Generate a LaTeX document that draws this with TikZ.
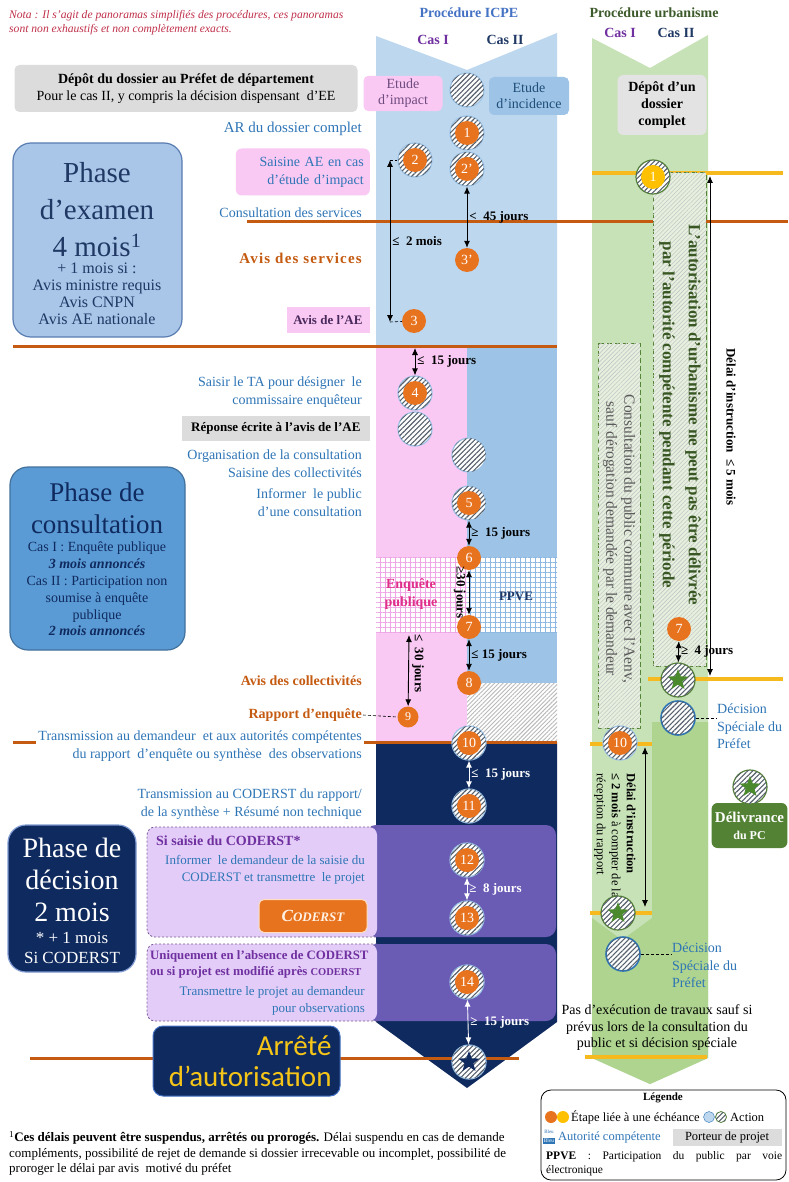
\documentclass[tikz,border=0pt]{standalone}
\usepackage{fontspec}
\setmainfont{Liberation Serif}
\newfontfamily\calib{Carlito}
\usetikzlibrary{arrows.meta,patterns.meta,shapes.geometric}

\definecolor{colbleu}{HTML}{BDD7EE}
\definecolor{colbleuB}{HTML}{9DC3E6}
\definecolor{colrose}{HTML}{F9C9F3}
\definecolor{grilrose}{HTML}{EFA6E6}
\definecolor{grilbleu}{HTML}{8DB8E2}
\definecolor{colnavy}{HTML}{0F2A5E}
\definecolor{colviolet}{HTML}{6A5BB5}
\definecolor{collilas}{HTML}{E3CDF8}
\definecolor{bordlilas}{HTML}{7A5A96}
\definecolor{colvert}{HTML}{C8E2B8}
\definecolor{colvertB}{HTML}{AED48F}
\definecolor{colvertF}{HTML}{548235}
\definecolor{etoilevert}{HTML}{4A8A2C}
\definecolor{fondurba}{HTML}{E6F0DE}
\definecolor{txtvert}{HTML}{385723}
\definecolor{colorange}{HTML}{E8731F}
\definecolor{lineorange}{HTML}{C55A11}
\definecolor{linejaune}{HTML}{F6BA1E}
\definecolor{jaune}{HTML}{FFC000}
\definecolor{txtbleu}{HTML}{2E75B6}
\definecolor{txtnavy}{HTML}{1F3864}
\definecolor{txtviolet}{HTML}{7030A0}
\definecolor{txtavisae}{HTML}{4A2A5C}
\definecolor{txtimpact}{HTML}{6E4A7E}
\definecolor{txtincid}{HTML}{1F4E79}
\definecolor{colgris}{HTML}{DCDCDC}
\definecolor{notarouge}{HTML}{C0304A}
\definecolor{txtrose}{HTML}{E0308A}
\definecolor{hachure}{HTML}{56606C}
\definecolor{fondexam}{HTML}{A9C6E8}
\definecolor{bordexam}{HTML}{5A7DB2}
\definecolor{fondconsult}{HTML}{5B9BD5}
\definecolor{bordconsult}{HTML}{41719C}
\definecolor{borddecis}{HTML}{7F9AD0}
\definecolor{txtarrete}{HTML}{F5C518}
\definecolor{txtgris}{HTML}{595959}
\definecolor{titreurba}{HTML}{3D5A2A}
\definecolor{titreicpe}{HTML}{4472C4}

\tikzset{
  bleutxt/.style={anchor=east, align=right, text=txtbleu, inner sep=1pt, font=\fontsize{14}{18}\selectfont},
  orgtxt/.style={anchor=east, text=lineorange, inner sep=1pt, font=\bfseries\fontsize{14}{18}\selectfont},
  hach/.style={circle, minimum size=34pt, inner sep=0pt, draw=colbleuB, line width=1.2pt, fill=white,
    postaction={pattern={Lines[angle=45,distance=3.5pt,line width=1.1pt]}, pattern color=hachure}},
  num/.style={circle, minimum size=24pt, inner sep=0pt, fill=colorange, text=white, font=\fontsize{14}{14}\selectfont},
  etoile/.style={star, star points=5, star point ratio=2.4, inner sep=0pt, minimum size=22pt},
  duree/.style={{Latex[length=7pt,width=6pt]}-{Latex[length=7pt,width=6pt]}, line width=0.9pt},
  dureelbl/.style={anchor=west, inner sep=2pt, font=\bfseries\fontsize{13}{13}\selectfont},
  renvoi/.style={dash pattern=on 3pt off 2pt, line width=0.6pt},
  phase/.style={rounded corners=18pt, line width=1.2pt},
  ligne orange/.style={lineorange, line width=3pt},
  ligne jaune/.style={linejaune, line width=3.5pt},
  cadre urba/.style={dash pattern=on 5pt off 3pt, draw=colvertF, line width=1pt, fill=fondurba,
    postaction={pattern={Lines[angle=45,distance=3pt,line width=0.6pt]}, pattern color=gray!45}},
  cadre lilas/.style={dash pattern=on 2pt off 2pt, draw=bordlilas, line width=0.8pt, rounded corners=8pt},
  grille/.style={pattern={Hatch[angle=0,distance=5pt,line width=0.7pt]}}
}

\begin{document}
\begin{tikzpicture}[x=1pt,y=-1pt]
\useasboundingbox (0,0) rectangle (788,1182);
\fill[white] (0,0) rectangle (788,1182);

\fill[colbleu] (376,36) -- (467,70) -- (557,33) -- (557,346) -- (376,346) -- cycle;
\fill[colrose] (376,346) rectangle (467,742);
\fill[colbleuB] (467,346) rectangle (557,683);
\fill[white] (376,557) rectangle (557,632);
\fill[grille, pattern color=grilrose] (376,557) rectangle (467,632);
\fill[grille, pattern color=grilbleu] (467,557) rectangle (557,632);
\fill[white] (467,683) rectangle (557,742);
\fill[pattern={Lines[angle=45,distance=3pt,line width=0.9pt]}, pattern color=gray!55] (467,683) rectangle (557,742);
\fill[colnavy] (376,742) -- (557,742) -- (557,1022) -- (467,1088) -- (376,1022) -- cycle;
\fill[colviolet, rounded corners=10pt] (366,825) rectangle (556,937);
\fill[colviolet, rounded corners=10pt] (366,944) rectangle (556,1021);

\fill[colvert] (592,38) -- (650,68) -- (708,35) -- (708,1058) -- (650,1084) -- (592,1058) -- cycle;
\fill[colvertB] (652,722) -- (708,722) -- (708,1058) -- (650,1084) -- (592,1058) -- (592,918) -- (622,940) -- (652,918) -- cycle;

\draw[ligne orange] (247,222) -- (788,222);
\draw[ligne orange] (13,346) -- (557,346);
\draw[ligne orange] (13,742) -- (557,742);
\draw[ligne orange] (30,1058) -- (519,1058);
\draw[ligne jaune] (592,173) -- (783,173);
\draw[ligne jaune] (648,679) -- (783,679);
\draw[ligne jaune] (590,744) -- (652,744);
\draw[ligne jaune] (590,913) -- (652,913);
\draw[ligne jaune] (585,1057) -- (707,1057);

\draw[cadre urba] (653,173) rectangle (706,666);
\draw[cadre urba] (598,343) rectangle (640,728);

\fill[collilas, rounded corners=8pt] (147,827) rectangle (377,937);
\draw[cadre lilas] (377,827) -- (147,827) -- (147,937) -- (377,937);
\fill[collilas, rounded corners=8pt] (147,944) rectangle (377,1021);
\draw[cadre lilas] (377,944) -- (147,944) -- (147,1021) -- (377,1021);

\node[anchor=north west, align=left, text=notarouge, inner sep=0pt, font=\itshape\fontsize{11.6}{14}\selectfont] (nota) at (9,10) {Nota : Il s’agit de panoramas simplifiés des procédures, ces panoramas\\sont non exhaustifs et non complètement exacts.};
\node[text=titreicpe, font=\bfseries\fontsize{14}{14}\selectfont] (icpe) at (469,13) {Procédure ICPE};
\node[text=txtviolet, font=\bfseries\fontsize{14}{14}\selectfont] (icpecas1) at (433,40) {Cas I};
\node[text=txtnavy, font=\bfseries\fontsize{14}{14}\selectfont] (icpecas2) at (505,40) {Cas II};
\node[text=titreurba, font=\bfseries\fontsize{14}{14}\selectfont] (urba) at (654,13) {Procédure urbanisme};
\node[text=txtviolet, font=\bfseries\fontsize{14}{14}\selectfont] (urbacas1) at (620,33) {Cas I};
\node[text=txtnavy, font=\bfseries\fontsize{14}{14}\selectfont] (urbacas2) at (676,33) {Cas II};

\node[fill=colgris, rounded corners=5pt, minimum width=343pt, minimum height=47pt, align=center, font=\fontsize{14}{17}\selectfont] (depot) at (186,88.5) {\textbf{Dépôt du dossier au Préfet de département}\\Pour le cas II, y compris la décision dispensant \ d’EE};
\node[fill=colrose, rounded corners=5pt, minimum width=79pt, minimum height=33pt, align=center, text=txtimpact, font=\fontsize{14}{16}\selectfont] (etimpact) at (403,93.5) {Etude\\d’impact};
\node[fill=colbleuB, rounded corners=5pt, minimum width=80pt, minimum height=38pt, align=center, text=txtincid, font=\fontsize{14}{16}\selectfont] (etincid) at (529,96) {Etude\\d’incidence};
\node[fill=colgris!80!white, rounded corners=6pt, minimum width=89pt, minimum height=60pt, align=center, font=\bfseries\fontsize{14}{17}\selectfont] (depurba) at (662,105) {Dépôt d’un\\dossier\\complet};

\node[bleutxt, font=\fontsize{15}{18}\selectfont] (ar) at (363,129) {AR du dossier complet};
\node[bleutxt, fill=colrose, rounded corners=6pt, text width=122pt, inner xsep=6pt, minimum height=47pt] (saisine) at (370,172) {Saisine AE en cas\\d’étude d’impact};
\node[bleutxt] (consult) at (363,213) {Consultation des services};
\node[orgtxt, font=\bfseries\fontsize{15}{18}\addfontfeatures{LetterSpace=8}\selectfont] (avisserv) at (363,258) {Avis des services};
\node[fill=colrose, minimum width=83pt, minimum height=26pt, text=txtavisae, font=\bfseries\fontsize{13}{13}\selectfont] (avisae) at (328,320) {Avis de l’AE};

\node[phase, fill=fondexam, draw=bordexam, minimum width=169pt, minimum height=194pt] (examen) at (97.5,240) {};
\node[text=txtnavy, align=center, font=\fontsize{29}{37}\selectfont] (examtitre) at (97,210) {Phase\\d’examen\\4 mois\textsuperscript{1}};
\node[text=txtnavy, align=center, font=\fontsize{16}{17}\selectfont] (examsous) at (97,294) {+ 1 mois si :\\Avis ministre requis\\Avis CNPN\\Avis AE nationale};

\node[bleutxt] (saisirta) at (363,392) {Saisir le TA pour désigner \ le\\commissaire enquêteur};
\node[fill=colgris, anchor=east, minimum width=188pt, minimum height=25pt, font=\bfseries\fontsize{13}{13}\selectfont] (reponse) at (370,428) {Réponse écrite à l’avis de l’AE};
\node[bleutxt] (organis) at (363,464) {Organisation de la consultation\\Saisine des collectivités};
\node[bleutxt] (informer) at (363,503) {Informer \ le public\\d’une consultation};

\node[phase, fill=fondconsult, draw=bordconsult, minimum width=175pt, minimum height=183pt] (consultation) at (97.5,558.5) {};
\node[text=colnavy, align=center, font=\fontsize{27}{32}\selectfont] (consulttitre) at (97,508) {Phase de\\consultation};
\node[text=colnavy, align=center, font=\fontsize{14}{16.8}\selectfont] (consultsous) at (97,589) {Cas I : Enquête publique\\\textbf{\textit{3 mois annoncés}}\\Cas II : Participation non\\soumise à enquête\\publique\\\textbf{\textit{2 mois annoncés}}};

\node[text=txtrose, align=center, font=\bfseries\fontsize{14}{18}\selectfont] (enqpub) at (411,594) {Enquête\\publique};
\node[text=txtnavy, font=\bfseries\fontsize{13}{13}\selectfont] (ppve) at (516,596) {PPVE};

\node[orgtxt] (aviscoll) at (363,681) {Avis des collectivités};
\node[orgtxt] (rapport) at (363,715) {Rapport d’enquête};
\node[bleutxt, fill=white, inner sep=2pt] (transdem) at (364,746) {Transmission au demandeur \ et aux autorités compétentes\\du rapport \ d’enquête ou synthèse \ des observations};
\node[bleutxt] (transcod) at (363,804) {Transmission au CODERST du rapport/\\de la synthèse + Résumé non technique};

\node[anchor=west, text=txtviolet, inner sep=1pt, font=\bfseries\fontsize{14}{14}\selectfont] (sisaisie) at (155,841) {Si saisie du CODERST*};
\node[bleutxt, font=\fontsize{13}{17}\selectfont] (informdem) at (366,870) {Informer \ le demandeur de la saisie du\\CODERST et transmettre \ le projet};
\node[fill=colorange, draw=orange!25, line width=1pt, rounded corners=5pt, minimum width=108pt, minimum height=33pt, text=orange!10, font=\bfseries\itshape\fontsize{17}{17}\selectfont] (coderst) at (313,916) {C{\fontsize{13}{13}\selectfont ODERST}};
\node[anchor=north west, align=left, text=txtviolet, inner sep=1pt, font=\bfseries\fontsize{12.8}{16.5}\selectfont] (uniquement) at (149,949) {Uniquement en l’absence de CODERST\\ou si projet est modifié après {\fontsize{10.5}{11}\selectfont CODERST}};
\node[bleutxt, font=\fontsize{13}{17}\selectfont] (transproj) at (366,1001) {Transmettre le projet au demandeur\\pour observations};

\node[phase, fill=colnavy, draw=borddecis, minimum width=128pt, minimum height=147pt] (decision) at (72,898.5) {};
\node[text=white, align=center, font=\fontsize{28}{32}\selectfont] (decistitre) at (72,880) {Phase de\\décision\\2 mois};
\node[text=white, align=center, font=\fontsize{17}{20}\selectfont] (decissous) at (72,948) {* + 1 mois\\Si CODERST};

\node[fill=colnavy, draw=titreicpe, line width=1pt, rounded corners=10pt, minimum width=187pt, minimum height=70pt, text width=170pt, align=right, text=txtarrete, font=\calib\fontsize{29}{31}\selectfont] (arrete) at (246.5,1061) {Arrêté\\d’autorisation};

\node[anchor=north west, align=left, inner sep=0pt, font=\fontsize{13}{15.5}\selectfont] (note) at (9,1131) {\textsuperscript{1}\textbf{Ces délais peuvent être suspendus, arrêtés ou prorogés.} Délai suspendu en cas de demande\\compléments, possibilité de rejet de demande si dossier irrecevable ou incomplet, possibilité de\\proroger le délai par avis \ motivé du préfet};

\node[rotate=-90, align=center, text=txtvert, font=\bfseries\fontsize{17}{26}\selectfont] (interdit) at (680,415) {L’autorisation d’urbanisme ne peut pas être délivrée\\par l’autorité compétente pendant cette période};
\node[rotate=-90, align=center, text=txtgris, font=\fontsize{15.5}{18}\selectfont] (aenv) at (619,539) {Consultation du public commune avec l’Aenv,\\sauf dérogation demandée par le demandeur};
\node[rotate=-90, font=\bfseries\fontsize{13}{13}\selectfont] (delai5) at (731,427) {Délai d’instruction \ ≤ 5 mois};
\node[rotate=-90, anchor=north west, align=left, font=\fontsize{12.5}{15}\selectfont] (delai2) at (639,770) {\textbf{Délai d’instruction}\\\textbf{≤ 2 mois} à compter de la\\réception du rapport};

\node[anchor=north west, align=left, text=txtbleu, inner sep=1pt, font=\fontsize{14}{17.5}\selectfont] (tdec1) at (716,703) {Décision\\Spéciale du\\Préfet};
\node[anchor=north west, align=left, text=txtbleu, inner sep=1pt, font=\fontsize{14}{17.5}\selectfont] (tdec2) at (671,942) {Décision\\Spéciale du\\Préfet};
\node[fill=colvertF, rounded corners=6pt, minimum width=75pt, minimum height=45pt, text=white, align=center, font=\bfseries\fontsize{15}{17}\selectfont] (deliv) at (749.5,825.5) {Délivrance\\{\fontsize{12}{14}\selectfont du PC}};
\node[align=center, font=\fontsize{14}{16.5}\selectfont] (pasexec) at (657,1028) {Pas d’exécution de travaux sauf si\\prévus lors de la consultation du\\public et si décision spéciale};

\node[hach] (h0) at (467,90) {};
\node[hach] (h1) at (467,133) {};
\node[num] (n1) at (h1) {1};
\node[hach] (h2) at (415,160) {};
\node[num] (n2) at (h2) {2};
\node[hach] (h2p) at (467,169) {};
\node[num] (n2p) at (h2p) {2’};
\node[num] (n3p) at (467,260) {3’};
\node[num] (n3) at (414,321) {3};
\node[hach] (h4) at (415,393) {};
\node[num] (n4) at (h4) {4};
\node[hach] (h4b) at (415,429) {};
\node[hach] (h5a) at (469,455) {};
\node[hach] (h5) at (469,503) {};
\node[num] (n5) at (h5) {5};
\node[num] (n6) at (469,558) {6};
\node[num] (n7) at (469,627) {7};
\node[num] (n8) at (469,683) {8};
\node[num, minimum size=21pt, font=\fontsize{12}{12}\selectfont] (n9) at (408,717) {9};
\node[hach] (h10) at (469,743) {};
\node[num] (n10) at (h10) {10};
\node[hach] (h11) at (469,806) {};
\node[num] (n11) at (h11) {11};
\node[hach] (h12) at (467,860) {};
\node[num] (n12) at (h12) {12};
\node[hach] (h13) at (467,918) {};
\node[num] (n13) at (h13) {13};
\node[hach] (h14) at (467,982) {};
\node[num] (n14) at (h14) {14};
\node[hach] (hfin) at (469,1062) {};
\node[etoile, fill=colnavy] (sfin) at (hfin) {};

\node[hach, draw=colvertF] (u1) at (653,177) {};
\node[num, fill=jaune] (u1n) at (u1) {1};
\node[num] (u7) at (679,629) {7};
\node[hach, draw=colvertF] (us1) at (678,680) {};
\node[etoile, fill=etoilevert] (us1e) at (us1) {};
\node[hach, draw=txtbleu, line width=1.6pt] (ud1) at (678,718) {};
\node[hach] (u10) at (620,743) {};
\node[num] (u10n) at (u10) {10};
\node[hach, draw=colvertF] (us2) at (618,913) {};
\node[etoile, fill=etoilevert] (us2e) at (us2) {};
\node[hach, draw=txtbleu, line width=1.6pt] (ud2) at (623,954) {};
\node[hach, draw=colvertF] (us3) at (750,787) {};
\node[etoile, fill=etoilevert] (us3e) at (us3) {};

\coordinate (a2h) at (390,160);
\coordinate (a2b) at (390,322);
\draw[duree] (a2h) -- node[dureelbl] {≤ \ 2 mois} (a2b);
\draw[renvoi] (a2h) -- (h2);
\draw[renvoi] (a2b) -- (n3);
\draw[duree] (h2p) -- node[dureelbl] {< \ 45 jours} (n3p);
\coordinate (a4h) at (415,348);
\draw[duree] (a4h) -- node[dureelbl] {≤ \ 15 jours} (h4);
\draw[duree] (h5) -- node[dureelbl] {≥ \ 15 jours} (n6);
\draw[duree] (n6) -- node[rotate=-90, anchor=north, inner sep=3pt, font=\bfseries\fontsize{13}{13}\selectfont] {≥30 jours} (n7);
\draw[duree] (n7) -- node[dureelbl] {≤ 15 jours} (n8);
\coordinate (a9h) at (409,635);
\draw[duree] (a9h) -- node[pos=0.4, rotate=-90, anchor=south, inner sep=3pt, font=\bfseries\fontsize{13}{13}\selectfont] {≤ \ 30 jours} (n9);
\draw[renvoi] (rapport.east) -- (n9.west);
\draw[duree, white] (h10) -- node[dureelbl] {≤ \ 15 jours} (h11);
\draw[duree, white] (h12) -- node[dureelbl] {≥ \ 8 jours} (h13);
\draw[duree, white] (h14) -- node[dureelbl] {≥ \ 15 jours} (hfin);

\coordinate (d5h) at (710,176);
\coordinate (d5b) at (710,676);
\draw[duree, line width=0.8pt] (d5h) -- (d5b);
\draw[duree] (u7) -- node[dureelbl] {≥ \ 4 jours} (us1);
\coordinate (d2h) at (645,747);
\coordinate (d2b) at (645,907);
\draw[duree, line width=0.8pt] (d2h) -- (d2b);
\draw[renvoi] (ud1) -- (ud1 -| tdec1.west);
\draw[renvoi] (ud2) -- (ud2 -| tdec2.west);

\node[draw, line width=0.8pt, rounded corners=10pt, minimum width=245pt, minimum height=90pt] (legende) at (663.5,1135) {};
\node[font=\bfseries\fontsize{11}{11}\selectfont] (legtitre) at (663,1098) {Légende};
\node[circle, fill=colorange, minimum size=12pt, inner sep=0pt] (legc1) at (551,1117) {};
\node[circle, fill=jaune, minimum size=12pt, inner sep=0pt] (legc2) at (563,1117) {};
\node[anchor=west, inner sep=1pt, font=\fontsize{12.5}{12.5}\selectfont] (legetape) at (570,1117) {Étape liée à une échéance};
\node[circle, fill=colbleu, draw=txtbleu, minimum size=11pt, inner sep=0pt] (legc3) at (709,1117) {};
\node[hach, draw=colvertF, line width=0.8pt, minimum size=11pt] (legc4) at (721,1117) {};
\node[anchor=west, inner sep=1pt, font=\fontsize{12.5}{12.5}\selectfont] (legaction) at (729,1117) {Action};
\node[text=txtbleu, inner sep=0pt, font=\fontsize{5}{5}\selectfont] (legbleu1) at (549,1132) {Bleu};
\node[fill=txtbleu, text=white, inner sep=1pt, font=\fontsize{5.5}{5.5}\selectfont] (legbleu2) at (549,1141) {Bleu};
\node[anchor=west, text=txtbleu, inner sep=1pt, font=\fontsize{12.5}{12.5}\selectfont] (legautor) at (557,1137) {Autorité compétente};
\node[fill=colgris, minimum width=109pt, minimum height=17pt, inner sep=1pt, font=\fontsize{12.5}{12.5}\selectfont] (legporteur) at (727,1137) {Porteur de projet};
\node[anchor=north west, text width=236pt, align=justify, inner sep=0pt, font=\fontsize{11.5}{14}\selectfont] (legppve) at (546,1151) {\textbf{PPVE} \ : \ Participation \ du \ public \ par \ voie \mbox{électronique}};
\end{tikzpicture}
\end{document}
